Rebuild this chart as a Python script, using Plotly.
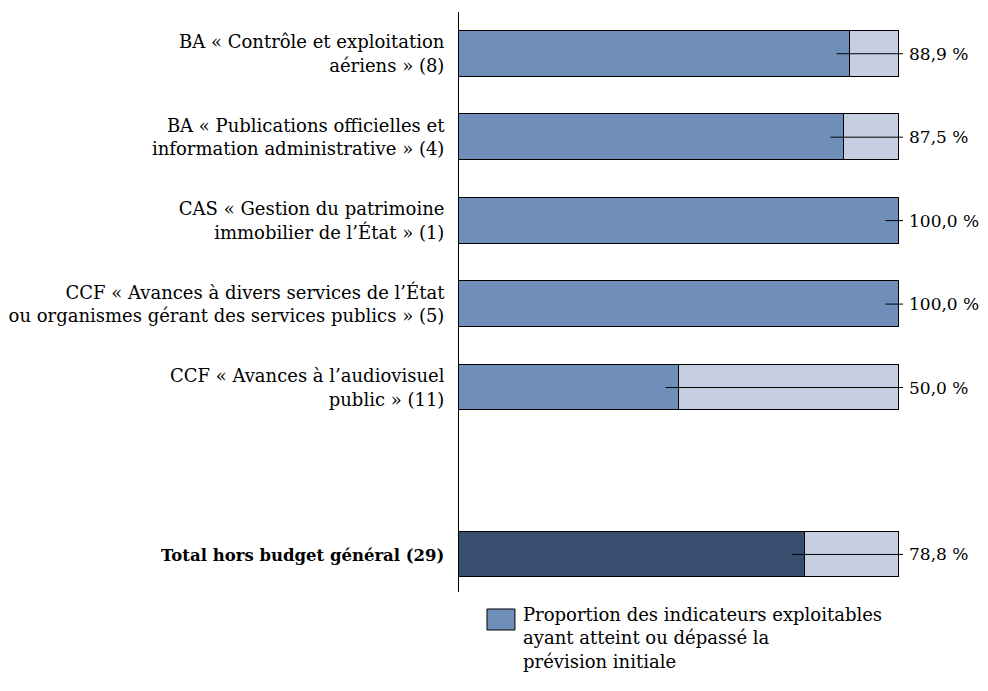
import plotly.graph_objects as go

categories = [
    "BA « Contrôle et exploitation<br>aériens » (8)",
    "BA « Publications officielles et<br>information administrative » (4)",
    "CAS « Gestion du patrimoine<br>immobilier de l’État » (1)",
    "CCF « Avances à divers services de l’État<br>ou organismes gérant des services publics » (5)",
    "CCF « Avances à l’audiovisuel<br>public » (11)",
    "<span style=\"font-size:16.5px\"><b>Total hors budget général (29)</b></span>",
]
positions = [0, 1, 2, 3, 4, 6]
values = [88.9, 87.5, 100.0, 100.0, 50.0, 78.8]
legend_label = "Proportion des indicateurs exploitables<br>ayant atteint ou dépassé la<br>prévision initiale"

BLUE = "#6F8FBA"
DARK = "#384E6E"
LIGHT = "#C5CFE1"
FONT = "DejaVu Serif"
FS = 18

colors = [BLUE] * 5 + [DARK]
rest = [100 - v for v in values]

fig = go.Figure()
fig.add_trace(go.Bar(
    y=positions, x=values, orientation="h", width=0.55,
    marker=dict(color=colors, line=dict(color="#000000", width=1)),
    name="Proportion des indicateurs exploitables ayant atteint ou dépassé la prévision initiale",
    hoverinfo="x",
))
fig.add_trace(go.Bar(
    y=positions, x=rest, orientation="h", width=0.55,
    marker=dict(color=LIGHT, line=dict(color="#000000", width=1)),
    name="Reste", hoverinfo="skip",
))

# leader lines
lx, ly = [], []
for p, v in zip(positions, values):
    lx += [v - 3, 101, None]
    ly += [p, p, None]
fig.add_trace(go.Scatter(x=lx, y=ly, mode="lines",
                         line=dict(color="#000000", width=1), hoverinfo="skip"))

for p, v in zip(positions, values):
    fig.add_annotation(x=100, y=p, xref="x", yref="y",
                       text=f"{v:.1f}".replace(".", ",") + "\u00a0%",
                       showarrow=False, xanchor="left", xshift=8,
                       font=dict(family=FONT, size=17, color="#000"))

# manual legend
fig.add_shape(type="rect", xref="paper", yref="paper",
              x0=0.063, x1=0.126, y0=-0.0655, y1=-0.0293,
              fillcolor=BLUE, line=dict(color="#000", width=1))
fig.add_annotation(xref="paper", yref="paper", x=0.139, y=-0.017,
                   text=legend_label, showarrow=False, xanchor="left",
                   yanchor="top", align="left",
                   font=dict(family=FONT, size=FS, color="#000"))

fig.update_layout(
    barmode="stack",
    showlegend=False,
    width=980, height=683,
    margin=dict(l=451, r=85, t=4, b=99, autoexpand=False),
    plot_bgcolor="white", paper_bgcolor="white",
    font=dict(family=FONT, size=FS, color="#000"),
    bargap=0,
)
fig.update_xaxes(range=[0, 101], visible=False, showgrid=False, zeroline=False,
                 automargin=False)
fig.update_yaxes(range=[6.45, -0.5], tickvals=positions, ticktext=categories,
                 showline=True, linecolor="#000", linewidth=1, showgrid=False,
                 zeroline=False, ticks="", ticklabelstandoff=10, automargin=False,
                 tickfont=dict(family=FONT, size=FS, color="#000"))

fig.write_html("out.html")
